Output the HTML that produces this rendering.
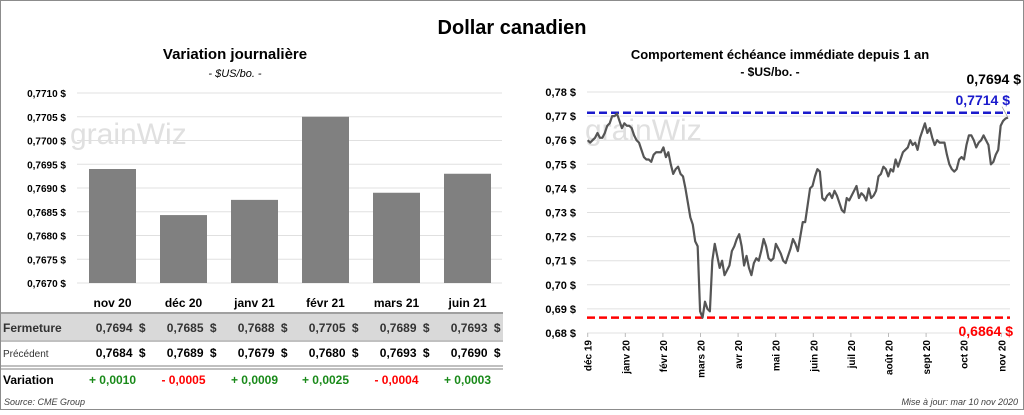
<!DOCTYPE html>
<html><head><meta charset="utf-8">
<style>
body{margin:0;width:1024px;height:410px;overflow:hidden;background:#fff;font-family:"Liberation Sans",sans-serif;}
svg text{font-family:"Liberation Sans",sans-serif;}
</style></head>
<body>
<svg id="c" width="1024" height="410" viewBox="0 0 1024 410">
<rect x="0.5" y="0.5" width="1023" height="409" fill="#fff" stroke="#8c8c8c"/>
<text x="512" y="34" text-anchor="middle" font-size="20" font-weight="bold">Dollar canadien</text>
<text x="235" y="59" text-anchor="middle" font-size="15" font-weight="bold">Variation  journalière</text>
<text x="235" y="77" text-anchor="middle" font-size="11" font-style="italic">- $US/bo. -</text>
<text x="780" y="59" text-anchor="middle" font-size="13" font-weight="bold">Comportement échéance immédiate depuis 1 an</text>
<text x="770" y="76" text-anchor="middle" font-size="12" font-weight="bold">- $US/bo. -</text>
<g id="left"></g>
<g id="table"></g>
<g id="right"></g>
<text x="4" y="405" font-size="9" font-style="italic" fill="#404040">Source: CME Group</text>
<text x="1018" y="405" text-anchor="end" font-size="9" font-style="italic" fill="#404040">Mise à jour: mar 10 nov 2020</text>
</svg>
<script>
const barCats=["nov 20","déc 20","janv 21","févr 21","mars 21","juin 21"];
const barVals=[0.7694,0.76843,0.76875,0.7705,0.7689,0.7693];
const leftTicks=[0.7670,0.7675,0.7680,0.7685,0.7690,0.7695,0.7700,0.7705,0.7710];
const closeVals=["0,7694","0,7685","0,7688","0,7705","0,7689","0,7693"];
const prevVals=["0,7684","0,7689","0,7679","0,7680","0,7693","0,7690"];
const varVals=["+ 0,0010","- 0,0005","+ 0,0009","+ 0,0025","- 0,0004","+ 0,0003"];
const lineVals=[0.760,0.759,0.760,0.761,0.763,0.761,0.761,0.763,0.766,0.767,0.770,0.770,0.771,0.768,0.765,0.767,0.766,0.766,0.765,0.762,0.760,0.759,0.756,0.753,0.752,0.752,0.751,0.754,0.755,0.755,0.755,0.757,0.753,0.755,0.750,0.746,0.748,0.749,0.746,0.745,0.740,0.734,0.728,0.725,0.718,0.716,0.689,0.6864,0.693,0.690,0.689,0.710,0.717,0.712,0.707,0.710,0.704,0.706,0.708,0.714,0.716,0.719,0.721,0.716,0.708,0.712,0.707,0.704,0.709,0.711,0.710,0.714,0.719,0.716,0.711,0.710,0.711,0.717,0.715,0.713,0.710,0.709,0.712,0.715,0.719,0.717,0.714,0.720,0.726,0.726,0.733,0.740,0.741,0.745,0.748,0.747,0.736,0.735,0.737,0.738,0.736,0.739,0.737,0.734,0.731,0.730,0.736,0.735,0.737,0.739,0.741,0.736,0.738,0.737,0.735,0.740,0.736,0.737,0.739,0.745,0.746,0.749,0.748,0.745,0.748,0.747,0.752,0.749,0.752,0.755,0.756,0.757,0.760,0.758,0.759,0.756,0.761,0.764,0.767,0.763,0.765,0.761,0.758,0.760,0.759,0.759,0.759,0.754,0.750,0.748,0.747,0.748,0.752,0.753,0.752,0.758,0.762,0.762,0.760,0.757,0.759,0.760,0.762,0.760,0.758,0.750,0.751,0.754,0.756,0.766,0.768,0.769,0.7694];
const rightTicks=[0.68,0.69,0.70,0.71,0.72,0.73,0.74,0.75,0.76,0.77,0.78];
const monthLabels=["déc 19","janv 20","févr 20","mars 20","avr 20","mai 20","juin 20","juil 20","août 20","sept 20","oct 20","nov 20"];
const highVal=0.7714, lowVal=0.6864, lastVal=0.7694;

const NS="http://www.w3.org/2000/svg";
function mk(p,t,a,txt){const e=document.createElementNS(NS,t);for(const k in a)e.setAttribute(k,a[k]);if(txt!==undefined)e.textContent=txt;p.appendChild(e);return e;}
const fmt4=v=>v.toFixed(4).replace('.',',')+' $';
const fmt2=v=>v.toFixed(2).replace('.',',')+' $';

// left chart
const L=document.getElementById('left');
const ly=v=>283-(v-0.7670)/0.0040*190;
const slotW=71, lx0=77;
mk(L,'text',{x:70,y:144,'font-size':30,fill:'#e0e0e0'},'grainWiz');
leftTicks.forEach(t=>{
  const g=mk(L,'line',{x1:77,x2:502,y1:ly(t),y2:ly(t),stroke:'#e0e0e0'});
  
  const tx=mk(L,'text',{x:66,y:ly(t)+4,'text-anchor':'end','font-size':10,'font-weight':'bold'},fmt4(t));
  
});
barVals.forEach((v,i)=>{
  const cx=lx0+slotW*(i+0.5);
  const r=mk(L,'rect',{x:cx-23.5,y:ly(v),width:47,height:283-ly(v),fill:'#808080'});
  
  const t=mk(L,'text',{x:cx,y:307,'text-anchor':'middle','font-size':12,'font-weight':'bold'},barCats[i]);
  
});
// table
const T=document.getElementById('table');
mk(T,'rect',{x:1,y:314,width:502,height:26,fill:'#d9d9d9'});
[[313,1.5],[341,1],[366,1],[369,1]].forEach(([y,w])=>{const l=mk(T,'line',{x1:1,x2:503,y1:y,y2:y,stroke:'#808080','stroke-width':w});});
mk(T,'text',{x:3,y:332,'font-size':12,'font-weight':'bold',fill:'#333'},'Fermeture');
mk(T,'text',{x:3,y:357,'font-size':10,fill:'#333'},'Précédent');
mk(T,'text',{x:3,y:384,'font-size':12,'font-weight':'bold'},'Variation');
barCats.forEach((c,i)=>{
  const cx=lx0+slotW*(i+0.5);
  const a=mk(T,'text',{x:cx+20,y:332,'text-anchor':'end','font-size':12,'font-weight':'bold',fill:'#333'},closeVals[i]);
  
  mk(T,'text',{x:cx+33,y:332,'text-anchor':'end','font-size':12,'font-weight':'bold',fill:'#333'},'$');
  const b=mk(T,'text',{x:cx+20,y:357,'text-anchor':'end','font-size':12,'font-weight':'bold'},prevVals[i]);
  
  mk(T,'text',{x:cx+33,y:357,'text-anchor':'end','font-size':12,'font-weight':'bold'},'$');
  const d=mk(T,'text',{x:cx,y:384,'text-anchor':'middle','font-size':12,'font-weight':'bold',fill:varVals[i][0]=='+'?'#1a8a1a':'#ff0000'},varVals[i]);
  
});
// right chart
const R=document.getElementById('right');
const ry=v=>333-(v-0.68)/0.10*241;
const x0=587.7, monthW=37.6;
const rx=i=>x0+i*(1008-x0)/(lineVals.length-1);
mk(R,'text',{x:585,y:140,'font-size':30,fill:'#e0e0e0'},'grainWiz');
rightTicks.forEach(t=>{
  const g=mk(R,'line',{x1:587,x2:1010,y1:ry(t),y2:ry(t),stroke:'#e0e0e0'});
  
  const tx=mk(R,'text',{x:576,y:ry(t)+4,'text-anchor':'end','font-size':11,'font-weight':'bold'},fmt2(t));
  
});
monthLabels.forEach((m,i)=>{
  const x=x0+i*monthW;
  mk(R,'line',{x1:x,x2:x,y1:333,y2:337,stroke:'#bbb'});
  const t=mk(R,'text',{x:0,y:0,transform:`translate(${x+4},340) rotate(-90)`,'text-anchor':'end','font-size':10,'font-weight':'bold'},m);
  
});
const hl=mk(R,'line',{x1:587,x2:1010,y1:ry(highVal),y2:ry(highVal),stroke:'#1a1acc','stroke-width':2.5,'stroke-dasharray':'8,4'});

const ll=mk(R,'line',{x1:587,x2:1010,y1:ry(lowVal),y2:ry(lowVal),stroke:'#ff0000','stroke-width':2.5,'stroke-dasharray':'8,4'});

const p=mk(R,'polyline',{points:lineVals.map((v,i)=>rx(i)+','+ry(v)).join(' '),fill:'none',stroke:'#555','stroke-width':2.2,'stroke-linejoin':'round'});

mk(R,'line',{x1:1002,y1:ry(highVal)-6,x2:1008,y2:ry(lastVal),stroke:'#999','stroke-width':0.7});
mk(R,'text',{x:1021,y:84,'text-anchor':'end','font-size':14,'font-weight':'bold'},fmt4(lastVal));
mk(R,'text',{x:1010,y:105,'text-anchor':'end','font-size':14,'font-weight':'bold',fill:'#1a1acc'},fmt4(highVal).replace(' $','  $'));
mk(R,'text',{x:1013,y:336,'text-anchor':'end','font-size':14,'font-weight':'bold',fill:'#ff0000'},fmt4(lowVal));
</script>
</body></html>
